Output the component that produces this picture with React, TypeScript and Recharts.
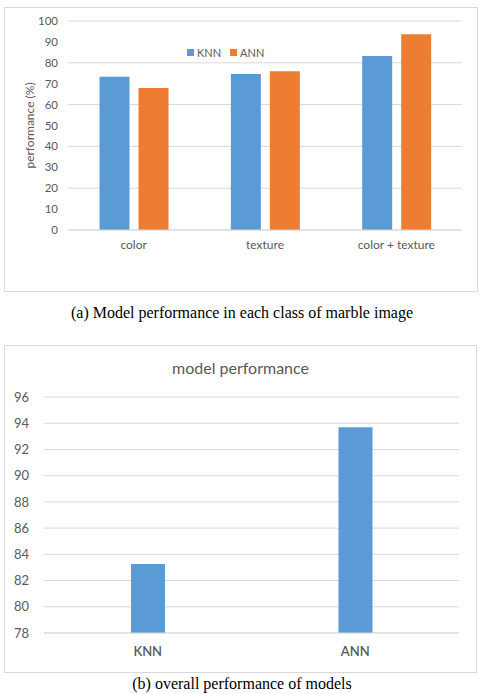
import { BarChart, Bar, XAxis, YAxis, CartesianGrid, Legend, Label } from "recharts";

const classes = ["color", "texture", "color + texture"];
const knnByClass = [73.3, 74.7, 83.3];
const annByClass = [67.9, 76.0, 93.7];
const classTicks = [0, 10, 20, 30, 40, 50, 60, 70, 80, 90, 100];

const models = ["KNN", "ANN"];
const overall = [83.27, 93.7];
const overallTicks = [78, 80, 82, 84, 86, 88, 90, 92, 94, 96];

const BLUE = "#5b9bd5";
const ORANGE = "#ed7d31";
const GRID = "#d9d9d9";
const TEXT = "#595959";
const FONT = "Lato, 'Open Sans', sans-serif";
const SERIF = "'Liberation Serif', 'Times New Roman', serif";

const classData = classes.map((c, i) => ({ name: c, KNN: knnByClass[i], ANN: annByClass[i] }));
const overallData = models.map((m, i) => ({ name: m, value: overall[i] }));

function SmallLegend() {
  const items = [
    { label: "KNN", color: BLUE },
    { label: "ANN", color: ORANGE },
  ];
  return (
    <div style={{ display: "flex", alignItems: "center", fontFamily: FONT, fontSize: 11, color: TEXT }}>
      {items.map((it) => (
        <span key={it.label} style={{ display: "flex", alignItems: "center", marginRight: 9 }}>
          <span style={{ width: 7, height: 7, background: it.color, display: "inline-block", marginRight: 3 }} />
          {it.label}
        </span>
      ))}
    </div>
  );
}

export default function App() {
  return (
    <div style={{ position: "absolute", top: 0, left: 0, width: 484, height: 694, overflow: "hidden", background: "#fff" }}>
      <div
        style={{
          position: "absolute",
          top: 7,
          left: 4,
          width: 472,
          height: 283,
          border: `1px solid ${GRID}`,
        }}
      >
        <BarChart
          width={472}
          height={283}
          data={classData}
          margin={{ top: 13, right: 15, left: 0, bottom: 31 }}
          barGap={9}
          barCategoryGap="24%"
        >
          <CartesianGrid vertical={false} stroke={GRID} />
          <XAxis
            dataKey="name"
            axisLine={{ stroke: GRID }}
            tickLine={false}
            tickMargin={4}
            height={30}
            tick={{ fontSize: 12, fill: TEXT, fontFamily: FONT }}
          />
          <YAxis
            width={63}
            domain={[0, 100]}
            ticks={classTicks}
            axisLine={false}
            tickLine={false}
            tickMargin={4}
            tick={{ fontSize: 11.5, fill: TEXT, fontFamily: FONT }}
          >
            <Label
              value="performance (%)"
              angle={-90}
              position="insideLeft"
              offset={25}
              style={{ textAnchor: "middle", fontSize: 12, fill: TEXT, fontFamily: FONT }}
            />
          </YAxis>
          <Legend
            verticalAlign="middle"
            content={<SmallLegend />}
            wrapperStyle={{ top: 38, left: 182, width: 100 }}
          />
          <Bar dataKey="KNN" fill={BLUE} isAnimationActive={false} />
          <Bar dataKey="ANN" fill={ORANGE} isAnimationActive={false} />
        </BarChart>
      </div>

      <div
        style={{
          position: "absolute",
          top: 303,
          left: 0,
          width: 484,
          textAlign: "center",
          fontFamily: SERIF,
          fontSize: 16,
          lineHeight: "20px",
          color: "#000",
        }}
      >
        (a) Model performance in each class of marble image
      </div>

      <div
        style={{
          position: "absolute",
          top: 345,
          left: 4,
          width: 471,
          height: 326,
          border: `1px solid ${GRID}`,
        }}
      >
        <div
          style={{
            position: "absolute",
            top: 12,
            left: 0,
            width: 471,
            textAlign: "center",
            fontFamily: FONT,
            fontSize: 16,
            color: TEXT,
          }}
        >
          model performance
        </div>
        <BarChart
          width={471}
          height={326}
          data={overallData}
          margin={{ top: 51, right: 17, left: 0, bottom: 14 }}
          barSize={34}
        >
          <CartesianGrid vertical={false} stroke={GRID} />
          <XAxis
            dataKey="name"
            axisLine={{ stroke: GRID }}
            tickLine={false}
            tickMargin={8}
            height={25}
            tick={{ fontSize: 13, fill: TEXT, fontFamily: FONT, fontWeight: 600 }}
          />
          <YAxis
            width={39}
            domain={[78, 96]}
            ticks={overallTicks}
            axisLine={false}
            tickLine={false}
            tickMargin={9}
            tick={{ fontSize: 13, fill: TEXT, fontFamily: FONT }}
          />
          <Bar dataKey="value" fill={BLUE} isAnimationActive={false} />
        </BarChart>
      </div>

      <div
        style={{
          position: "absolute",
          top: 675,
          left: 0,
          width: 484,
          textAlign: "center",
          fontFamily: SERIF,
          fontSize: 16,
          lineHeight: "18px",
          color: "#000",
        }}
      >
        (b) overall performance of models
      </div>
    </div>
  );
}
